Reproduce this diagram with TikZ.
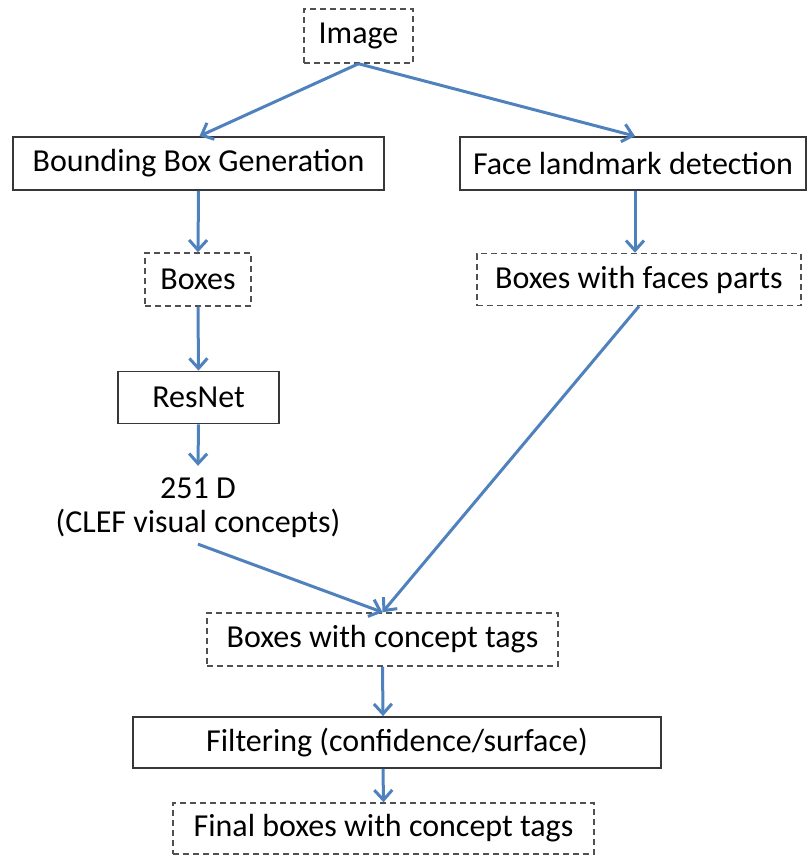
\documentclass[tikz,border=0pt]{standalone}
\usepackage{fontspec}
\setmainfont{Carlito}
\usetikzlibrary{arrows.meta}
\definecolor{arr}{RGB}{79,129,189}
\definecolor{boxline}{RGB}{55,55,55}
\definecolor{dashline}{RGB}{80,80,80}
\begin{document}
\begin{tikzpicture}[x=1pt,y=-1pt,
  every node/.style={font=\fontsize{32}{34}\selectfont, inner sep=0pt, text=black},
  solidbox/.style={draw=boxline, line width=1.8pt},
  dashbox/.style={draw=dashline, line width=1.5pt, dash pattern=on 6pt off 4pt},
  flow/.style={draw=arr, line width=3pt, -{Straight Barb[length=10pt,width=18pt,line width=3pt]}}]
\useasboundingbox (0,0) rectangle (809,859);

\node[dashbox, minimum width=109pt, minimum height=54pt] (img) at (358.5,36) {Image};
\node[solidbox, minimum width=371pt, minimum height=53pt] (bbg) at (198.5,163.5) {Bounding Box Generation};
\node[solidbox, minimum width=346pt, minimum height=53pt] (flm) at (633,163.5) {Face landmark detection};
\node[dashbox, minimum width=106pt, minimum height=53pt] (bx) at (198,279.5) {Boxes};
\node[dashbox, minimum width=324pt, minimum height=52pt] (bfp) at (639,279.5) {Boxes with faces parts};
\node[solidbox, minimum width=161pt, minimum height=52pt] (rn) at (198.5,397.5) {ResNet};
\node[align=center] (d251) at (198,508) {251 D\\(CLEF visual concepts)};
\node[dashbox, minimum width=351pt, minimum height=53pt] (cpt) at (382.5,639.5) {Boxes with concept tags};
\node[solidbox, minimum width=528pt, minimum height=51pt] (flt) at (397,742.5) {Filtering (confidence/surface)};
\node[dashbox, minimum width=421pt, minimum height=51pt] (fin) at (383.5,828.5) {Final boxes with concept tags};

\draw[flow] (img.south) -- ([xshift=1pt]bbg.north);
\draw[flow] (img.south) -- ([xshift=2pt]flm.north);
\draw[flow] (bbg.south) -- (bx.north);
\draw[flow] ([xshift=2pt]flm.south) -- ([xshift=-4pt]bfp.north);
\draw[flow] (bx.south) -- (rn.north);
\draw[flow] (rn.south) -- ([yshift=12pt]d251.north);
\draw[flow] ([yshift=-6pt]d251.south) -- (cpt.north);
\draw[flow] (bfp.south) -- (cpt.north);
\draw[flow] (cpt.south) -- ([xshift=-14pt]flt.north);
\draw[flow] ([xshift=-14pt]flt.south) -- (fin.north);
\end{tikzpicture}
\end{document}
